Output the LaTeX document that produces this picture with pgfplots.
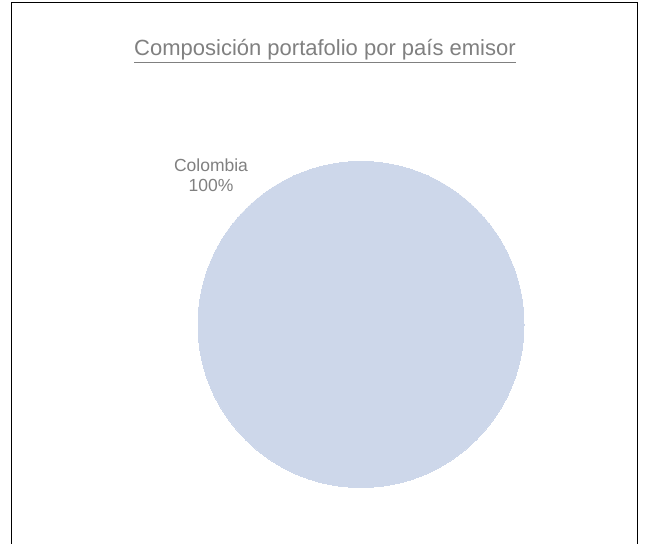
\documentclass[border=0pt]{standalone}
\usepackage{pgfplots}
\pgfplotsset{compat=1.18}
\usepackage{fontspec}
\setmainfont{Liberation Sans}
\definecolor{slice}{RGB}{205,215,234}
\definecolor{txt}{RGB}{128,128,128}
\begin{document}
\begin{tikzpicture}
\useasboundingbox (0,0) rectangle (647pt,543pt);
\fill[white] (0,0) rectangle (647pt,543pt);
\begin{axis}[
    at={(0,0)}, anchor=south west,
    width=647pt, height=543pt, scale only axis,
    xmin=0, xmax=647, ymin=0, ymax=543,
    hide axis, clip=false,
]
% whole pie = one slice (Colombia, 100%)
\addplot[slice, only marks, mark=*, mark size=163pt,
    mark options={fill=slice, draw=slice, line width=0pt}] coordinates {(361,218.5)};
\node[txt, font=\fontsize{17.5}{20}\selectfont, align=center]
    at (axis cs:211,368) {Colombia\\100\%};
\node[txt, font=\fontsize{22}{26}\selectfont]
    at (axis cs:325,492) {\underline{Composición portafolio por país emisor}};
\draw[black, line width=1pt] (axis cs:11,-5) -- (axis cs:11,540) -- (axis cs:637,540) -- (axis cs:637,-5);
\end{axis}
\end{tikzpicture}
\end{document}
